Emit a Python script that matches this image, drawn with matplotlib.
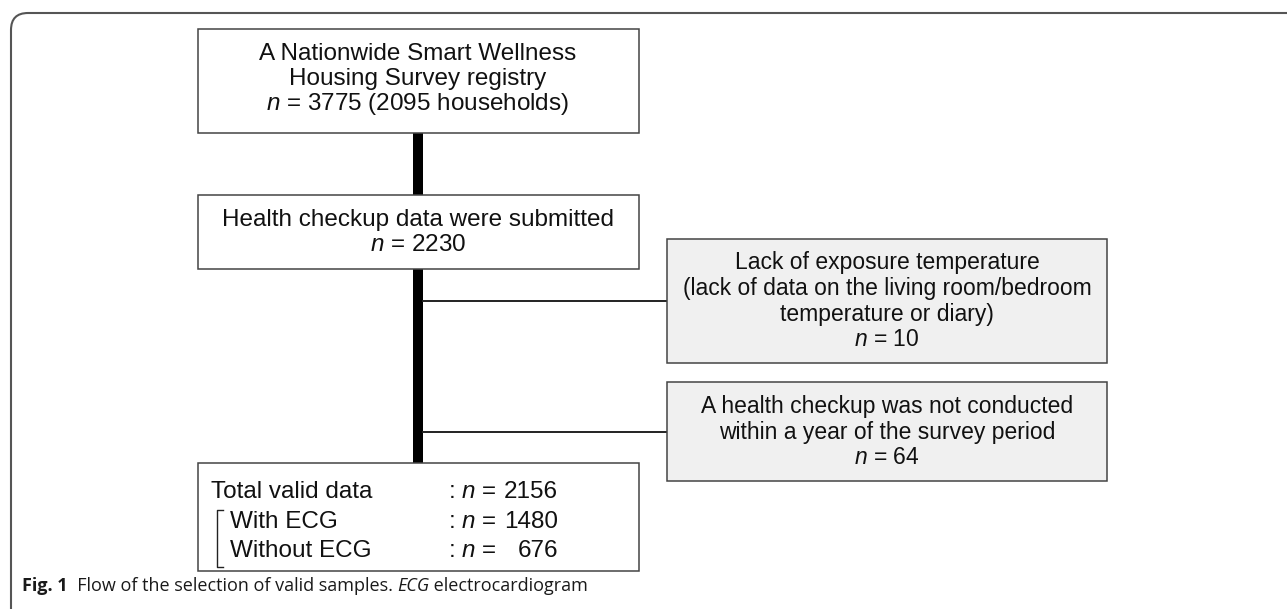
import matplotlib
matplotlib.use("Agg")
import matplotlib.pyplot as plt
from matplotlib.patches import Rectangle, PathPatch
from matplotlib.path import Path

plt.rcParams['font.family'] = ['Liberation Sans', 'DejaVu Sans']
plt.rcParams['mathtext.fontset'] = 'custom'
plt.rcParams['mathtext.rm'] = 'Liberation Sans'
plt.rcParams['mathtext.it'] = 'Liberation Sans:italic'

"""Flow chart content"""
registry_lines = ["A Nationwide Smart Wellness", "Housing Survey registry"]
n_registry = 3775
households = 2095
submitted_line = "Health checkup data were submitted"
n_submitted = 2230
excl_labels = [["Lack of exposure temperature",
                "(lack of data on the living room/bedroom",
                "temperature or diary)"],
               ["A health checkup was not conducted",
                "within a year of the survey period"]]
n_excluded = [10, 64]
final_labels = ["Total valid data", "With ECG", "Without ECG"]
n_final = [2156, 1480, 676]
caption_parts = ["Flow of the selection of valid samples. ", "ECG", " electrocardiogram"]

W, H = 1287, 609
fig = plt.figure(figsize=(W / 100, H / 100), dpi=100)
ax = fig.add_axes([0, 0, 1, 1])
ax.set_xlim(0, W)
ax.set_ylim(H, 0)
ax.axis('off')

edge = '#444444'
fs_left = 17.5
fs_right = 16.5


def box(x0, y0, x1, y1, fill='white'):
    ax.add_patch(Rectangle((x0, y0), x1 - x0, y1 - y0, facecolor=fill,
                           edgecolor=edge, lw=1.1, zorder=3))


def lines(xc, ys, texts, fs):
    for y, t in zip(ys, texts):
        ax.text(xc, y, t, ha='center', va='center', fontsize=fs,
                color='#111111', zorder=4)


# outer frame with rounded top-left corner
frame = Path([(11, H), (11, 30), (11, 13), (28, 13), (W, 13)],
             [Path.MOVETO, Path.LINETO, Path.CURVE3, Path.CURVE3, Path.LINETO])
ax.add_patch(PathPatch(frame, fill=False, edgecolor='#555555', lw=1.5))

# spine and side connectors
ax.add_patch(Rectangle((413, 133), 10, 463 - 133, facecolor='black', lw=0, zorder=2))
ax.plot([423, 667], [301, 301], color='#222222', lw=1.4, zorder=2)
ax.plot([423, 667], [432, 432], color='#222222', lw=1.4, zorder=2)

# left column boxes
box(198, 29, 639, 133)
lines(418, [54, 79, 104], registry_lines +
      [f"$n$ = {n_registry} ({households} households)"], fs_left)

box(198, 195, 639, 269)
lines(418, [220, 245], [submitted_line, f"$n$ = {n_submitted}"], fs_left)

# exclusion boxes
box(667, 239, 1107, 363, fill='#f0f0f0')
lines(887, [262, 288, 314, 340], excl_labels[0] + [f"$n$ = {n_excluded[0]}"], fs_right)

box(667, 382, 1107, 481, fill='#f0f0f0')
lines(887, [406, 432, 458], excl_labels[1] + [f"$n$ = {n_excluded[1]}"], fs_right)

# final box
box(198, 463, 639, 571)
rows_y = [492, 522, 551]
rows_x = [211, 230, 230]
for x, y, lab, n in zip(rows_x, rows_y, final_labels, n_final):
    ax.text(x, y, lab, ha='left', va='center', fontsize=fs_left,
            color='#111111', zorder=4)
    ax.text(448, y, ": $n$ =", ha='left', va='center', fontsize=fs_left,
            color='#111111', zorder=4)
    ax.text(558, y, f"{n}", ha='right', va='center', fontsize=fs_left,
            color='#111111', zorder=4)
ax.plot([223, 217, 217, 223], [510, 510, 567, 567], color='#222222', lw=1.0, zorder=4)

# caption
cap_fs = 13
cap = ax.text(22, 586, "Fig. 1", ha='left', va='center', fontsize=cap_fs,
              family='Open Sans', weight='bold', color='#1a1a1a')
prev = ax.annotate("  " + caption_parts[0], xy=(1, 0), xycoords=cap,
                   ha='left', va='bottom', fontsize=cap_fs, family='Open Sans',
                   color='#1a1a1a')
prev = ax.annotate(caption_parts[1], xy=(1, 0), xycoords=prev, ha='left',
                   va='bottom', fontsize=cap_fs, family='Open Sans',
                   style='italic', color='#1a1a1a')
ax.annotate(caption_parts[2], xy=(1, 0), xycoords=prev, ha='left',
            va='bottom', fontsize=cap_fs, family='Open Sans', color='#1a1a1a')

fig.savefig("out.png", dpi=100)
